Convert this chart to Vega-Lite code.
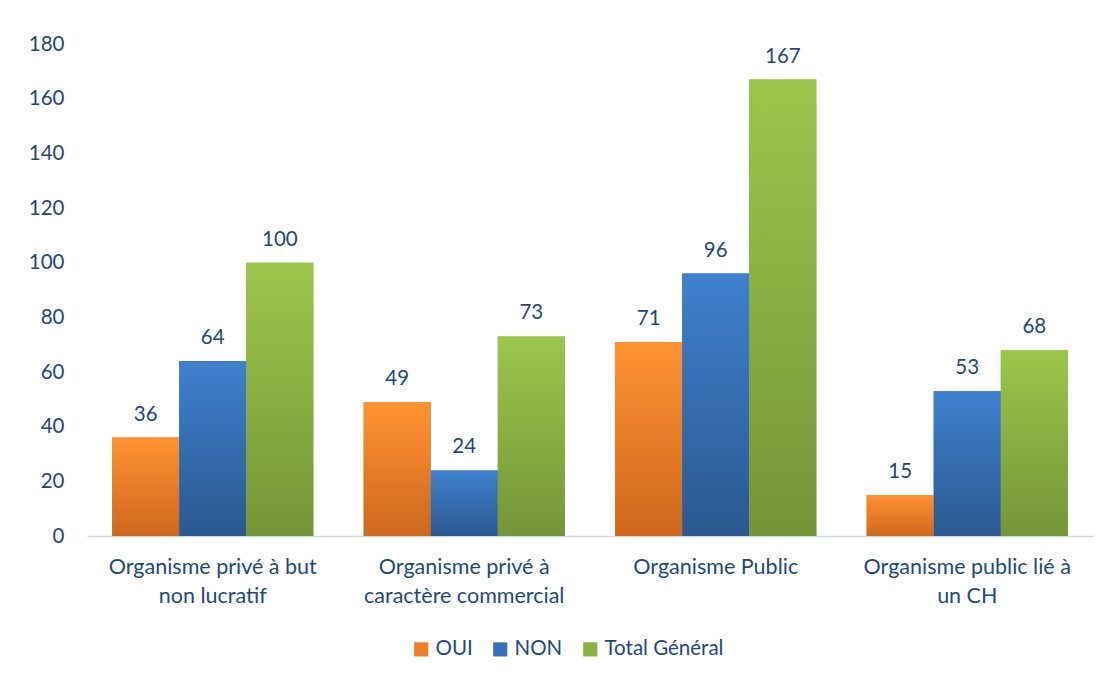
{
  "$schema": "https://vega.github.io/schema/vega-lite/v6.json",
  "width": 1006,
  "height": 492,
  "autosize": {"type": "none"},
  "padding": {"left": 87, "top": 44, "right": 14, "bottom": 141},
  "background": "white",
  "config": {
    "view": {"stroke": null},
    "font": "Lato",
    "text": {"font": "Lato"}
  },
  "data": {
    "values": [
      {"categorie": "Organisme privé à but non lucratif", "serie": "OUI", "valeur": 36},
      {"categorie": "Organisme privé à but non lucratif", "serie": "NON", "valeur": 64},
      {"categorie": "Organisme privé à but non lucratif", "serie": "Total Général", "valeur": 100},
      {"categorie": "Organisme privé à caractère commercial", "serie": "OUI", "valeur": 49},
      {"categorie": "Organisme privé à caractère commercial", "serie": "NON", "valeur": 24},
      {"categorie": "Organisme privé à caractère commercial", "serie": "Total Général", "valeur": 73},
      {"categorie": "Organisme Public", "serie": "OUI", "valeur": 71},
      {"categorie": "Organisme Public", "serie": "NON", "valeur": 96},
      {"categorie": "Organisme Public", "serie": "Total Général", "valeur": 167},
      {"categorie": "Organisme public  lié à un CH", "serie": "OUI", "valeur": 15},
      {"categorie": "Organisme public  lié à un CH", "serie": "NON", "valeur": 53},
      {"categorie": "Organisme public  lié à un CH", "serie": "Total Général", "valeur": 68}
    ]
  },
  "encoding": {
    "x": {
      "field": "categorie",
      "type": "nominal",
      "sort": null,
      "title": null,
      "scale": {"paddingInner": 0.2, "paddingOuter": 0.1},
      "axis": {
        "labelAngle": 0,
        "ticks": false,
        "domainColor": "#C6D6EC",
        "domainWidth": 1.5,
        "labelFontSize": 21.5,
        "labelColor": "#1F497D",
        "labelPadding": 20,
        "labelLineHeight": 29,
        "labelBaseline": "top",
        "labelLimit": 400,
        "labelExpr": "datum.value == 'Organisme privé à but non lucratif' ? ['Organisme privé à but', 'non lucratif'] : datum.value == 'Organisme privé à caractère commercial' ? ['Organisme privé à', 'caractère commercial'] : datum.value == 'Organisme public  lié à un CH' ? ['Organisme public  lié à', 'un CH'] : datum.value"
      }
    },
    "xOffset": {
      "field": "serie",
      "type": "nominal",
      "scale": {"domain": ["OUI", "NON", "Total Général"], "paddingInner": 0, "paddingOuter": 0}
    },
    "y": {
      "field": "valeur",
      "type": "quantitative",
      "title": null,
      "scale": {"domain": [0, 180], "nice": false},
      "axis": {
        "values": [0, 20, 40, 60, 80, 100, 120, 140, 160, 180],
        "grid": false,
        "domain": false,
        "ticks": false,
        "labelFontSize": 20.5,
        "labelColor": "#1F497D",
        "labelPadding": 23
      }
    }
  },
  "layer": [
    {
      "mark": {"type": "bar"},
      "encoding": {
        "color": {
          "field": "serie",
          "type": "nominal",
          "scale": {"domain": ["OUI", "NON", "Total Général"], "range": ["#EE7F26", "#3870BA", "#8AB143"]},
          "legend": {
            "title": null,
            "orient": "none",
            "legendX": 324,
            "legendY": 595,
            "direction": "horizontal",
            "symbolType": "square",
            "symbolSize": 200,
            "symbolStrokeWidth": 0,
            "labelFontSize": 20.5,
            "labelColor": "#1F497D",
            "labelOffset": 4,
            "columnPadding": 17
          }
        }
      }
    },
    {
      "transform": [{"filter": "datum.serie === 'OUI'"}],
      "mark": {
        "type": "bar",
        "color": {"gradient": "linear", "x1": 0, "y1": 0, "x2": 0, "y2": 1, "stops": [{"offset": 0, "color": "#FF9232"}, {"offset": 1, "color": "#CF671D"}]}
      }
    },
    {
      "transform": [{"filter": "datum.serie === 'NON'"}],
      "mark": {
        "type": "bar",
        "color": {"gradient": "linear", "x1": 0, "y1": 0, "x2": 0, "y2": 1, "stops": [{"offset": 0, "color": "#3F80CE"}, {"offset": 1, "color": "#2B5890"}]}
      }
    },
    {
      "transform": [{"filter": "datum.serie === 'Total Général'"}],
      "mark": {
        "type": "bar",
        "color": {"gradient": "linear", "x1": 0, "y1": 0, "x2": 0, "y2": 1, "stops": [{"offset": 0, "color": "#9CC64B"}, {"offset": 1, "color": "#749538"}]}
      }
    },
    {
      "mark": {"type": "text", "baseline": "bottom", "dy": -13, "fontSize": 20.5, "color": "#1F497D"},
      "encoding": {"text": {"field": "valeur", "type": "quantitative"}}
    }
  ]
}
